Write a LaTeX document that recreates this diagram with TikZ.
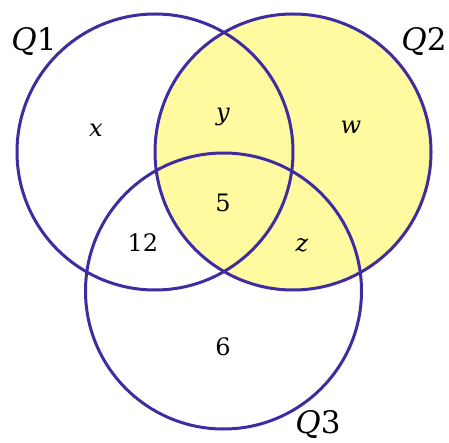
\documentclass[tikz,border=0pt]{standalone}
\usepackage{fontspec}
\setmainfont{DejaVu Serif}
\begin{document}
\begin{tikzpicture}[x=1pt,y=-1pt,
  ring/.style={draw=venn,line width=3pt},
  setlab/.style={inner sep=0pt,font=\fontsize{31}{36}\selectfont},
  reglab/.style={inner sep=0pt,font=\fontsize{24}{28}\selectfont}]
\definecolor{venn}{RGB}{62,44,160}
\definecolor{fillY}{RGB}{255,249,160}
\useasboundingbox (0,0) rectangle (449,443);
\coordinate (c1) at (155,152);
\coordinate (c2) at (293,152);
\coordinate (c3) at (223.5,291);
\fill[fillY] (c2) circle (138);
\draw[ring] (c1) circle (138);
\draw[ring] (c2) circle (138);
\draw[ring] (c3) circle (138);
\node[setlab] (q1) at (34,41) {\textit{Q}1};
\node[setlab] (q2) at (424,41) {\textit{Q}2};
\node[setlab] (q3) at (318,424) {\textit{Q}3};
\node[reglab] (rx) at (96,130) {\textit{x}};
\node[reglab] (ry) at (223,117) {\textit{y}};
\node[reglab] (rw) at (351,127) {\textit{w}};
\node[reglab] (r5) at (223,203) {5};
\node[reglab] (r12) at (143,243) {12};
\node[reglab] (rz) at (302,245) {\textit{z}};
\node[reglab] (r6) at (223,347) {6};
\end{tikzpicture}
\end{document}
